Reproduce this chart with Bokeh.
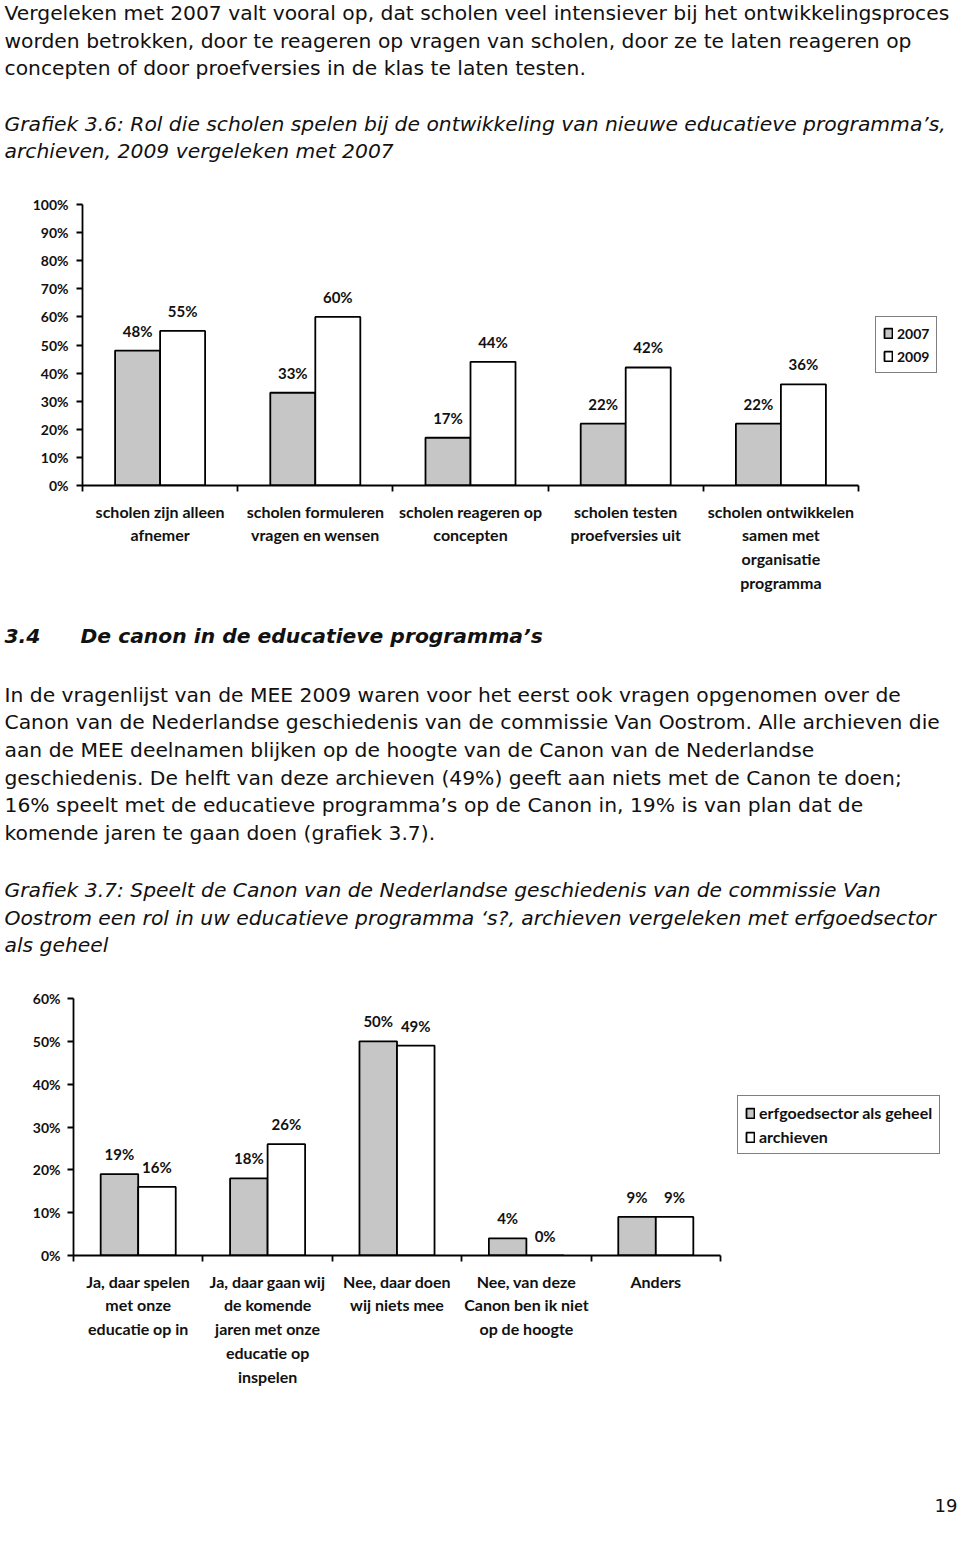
import numpy as np
from bokeh.plotting import figure
from bokeh.models import Range1d, FixedTicker, Legend, LegendItem, ColumnDataSource, PrintfTickFormatter
from bokeh.layouts import column
from bokeh.core.properties import value
from bokeh.embed import file_html
from bokeh.resources import INLINE

# ---------------- data ----------------
c1_categories = [
    "scholen zijn alleen\nafnemer",
    "scholen formuleren\nvragen en wensen",
    "scholen reageren op\nconcepten",
    "scholen testen\nproefversies uit",
    "scholen ontwikkelen\nsamen met\norganisatie\nprogramma",
]
c1_series = ["2007", "2009"]
c1_2007 = [48, 33, 17, 22, 22]
c1_2009 = [55, 60, 44, 42, 36]
c1_yticks = [0, 10, 20, 30, 40, 50, 60, 70, 80, 90, 100]

c2_categories = [
    "Ja, daar spelen\nmet onze\neducatie op in",
    "Ja, daar gaan wij\nde komende\njaren met onze\neducatie op\ninspelen",
    "Nee, daar doen\nwij niets mee",
    "Nee, van deze\nCanon ben ik niet\nop de hoogte",
    "Anders",
]
c2_series = ["erfgoedsector als geheel", "archieven"]
c2_erfgoed = [19, 18, 50, 4, 9]
c2_archieven = [16, 26, 49, 0, 9]
c2_yticks = [0, 10, 20, 30, 40, 50, 60]

para1 = [
    "Vergeleken met 2007 valt vooral op, dat scholen veel intensiever bij het ontwikkelingsproces",
    "worden betrokken, door te reageren op vragen van scholen, door ze te laten reageren op",
    "concepten of door proefversies in de klas te laten testen.",
]
caption1 = [
    "Grafiek 3.6: Rol die scholen spelen bij de ontwikkeling van nieuwe educatieve programma\u2019s,",
    "archieven, 2009 vergeleken met 2007",
]
heading_num = "3.4"
heading_txt = "De canon in de educatieve programma\u2019s"
para2 = [
    "In de vragenlijst van de MEE 2009 waren voor het eerst ook vragen opgenomen over de",
    "Canon van de Nederlandse geschiedenis van de commissie Van Oostrom. Alle archieven die",
    "aan de MEE deelnamen blijken op de hoogte van de Canon van de Nederlandse",
    "geschiedenis. De helft van deze archieven (49%) geeft aan niets met de Canon te doen;",
    "16% speelt met de educatieve programma\u2019s op de Canon in, 19% is van plan dat de",
    "komende jaren te gaan doen (grafiek 3.7).",
]
caption2 = [
    "Grafiek 3.7: Speelt de Canon van de Nederlandse geschiedenis van de commissie Van",
    "Oostrom een rol in uw educatieve programma \u2018s?, archieven vergeleken met erfgoedsector",
    "als geheel",
]
page_number = "19"

# ---------------- style ----------------
W = 960
GRAY = "#c6c6c6"
CFONT = "Lato"
TFONT = "DejaVu Sans"
TSIZE = "20.3px"
LW = 1.8
TX = 4


def text_fig(h):
    p = figure(width=W, height=h, x_range=Range1d(0, W), y_range=Range1d(h, 0),
               output_backend="svg", toolbar_location=None, min_border=0,
               min_border_left=0, min_border_right=0, min_border_top=0, min_border_bottom=0,
               x_axis_type=None, y_axis_type=None, frame_align=False)
    p.outline_line_color = None
    p.grid.visible = False
    return p


def add_lines(p, x, ys, lines, style="normal", size=TSIZE):
    p.text(x=[x] * len(lines), y=ys, text=lines, text_font=value(TFONT),
           text_font_size=size, text_font_style=style, text_baseline="middle",
           text_align="left", text_color="#111111")


def bar_chart(h, top, bottom, left, cat_w, ymax, yticks, cats, a, b, names,
              legend_xy, ystandoff, legend_size):
    n = len(cats)
    xend = (W - left) / cat_w
    p = figure(width=W, height=h, x_range=Range1d(0, xend), y_range=Range1d(0, ymax),
               output_backend="svg", toolbar_location=None, frame_align=False,
               min_border_left=left, min_border_right=0,
               min_border_top=top, min_border_bottom=bottom)
    p.outline_line_color = None
    p.xgrid.visible = False
    p.ygrid.visible = False

    idx = np.arange(n)
    bw = 0.29
    src = ColumnDataSource(dict(
        xa=idx + 0.5 - bw / 2, xb=idx + 0.5 + bw / 2, a=a, b=b,
        la=[f"{v}%" for v in a], lb=[f"{v}%" for v in b]))
    ra = p.vbar(x="xa", top="a", width=bw, source=src, fill_color=GRAY,
                line_color="black", line_width=LW)
    rb = p.vbar(x="xb", top="b", width=bw, source=src, fill_color="white",
                line_color="black", line_width=LW)
    for xc, yc, lc in (("xa", "a", "la"), ("xb", "b", "lb")):
        p.text(x=xc, y=yc, text=lc, source=src, text_align="center",
               text_baseline="middle", y_offset=-20, text_font=value(CFONT),
               text_font_style="bold", text_font_size="15px", text_color="#111111")

    xa = p.xaxis[0]
    xa.ticker = FixedTicker(ticks=[float(i + 0.5) for i in idx],
                            minor_ticks=[float(i) for i in range(n + 1)])
    xa.major_label_overrides = {float(i + 0.5): c for i, c in enumerate(cats)}
    xa.bounds = (0, n)
    xa.major_tick_out = 0
    xa.major_tick_in = 0
    xa.minor_tick_out = 6
    xa.minor_tick_in = 0
    xa.axis_line_width = LW
    xa.axis_line_color = "black"
    xa.minor_tick_line_width = LW
    xa.minor_tick_line_color = "black"
    xa.major_label_standoff = 10
    xa.major_label_text_font = CFONT
    xa.major_label_text_font_style = "bold"
    xa.major_label_text_font_size = "16px"
    xa.major_label_text_color = "#111111"
    xa.major_label_text_line_height = 1.25

    ya = p.yaxis[0]
    ya.ticker = FixedTicker(ticks=yticks)
    ya.formatter = PrintfTickFormatter(format="%d%%")
    ya.major_tick_out = 6
    ya.major_tick_in = 0
    ya.minor_tick_out = 0
    ya.minor_tick_in = 0
    ya.axis_line_width = LW
    ya.axis_line_color = "black"
    ya.major_tick_line_width = LW
    ya.major_tick_line_color = "black"
    ya.major_label_standoff = ystandoff
    ya.major_label_text_font = CFONT
    ya.major_label_text_font_style = "bold"
    ya.major_label_text_font_size = "14px"
    ya.major_label_text_color = "#111111"

    leg = Legend(items=[LegendItem(label=value(names[0]), renderers=[ra]),
                        LegendItem(label=value(names[1]), renderers=[rb])],
                 location=legend_xy, orientation="vertical",
                 border_line_color="black", border_line_width=LW,
                 glyph_width=10, glyph_height=12,
                 label_text_font=CFONT, label_text_font_style="bold",
                 label_text_font_size=legend_size, label_text_color="#111111",
                 label_height=18, spacing=5, padding=7, label_standoff=4,
                 margin=0, background_fill_color="white", background_fill_alpha=1)
    p.add_layout(leg)
    return p


# ---------------- sections ----------------
A = text_fig(190)
add_lines(A, TX, [12, 40, 67], para1)
add_lines(A, TX, [123, 150], caption1, style="italic")

B = bar_chart(420, 14, 125, 82, 155.2, 100, c1_yticks, c1_categories, c1_2007, c1_2009,
              c1_series, (793, 112), 8, "14px")

C = text_fig(365)
add_lines(C, TX, [25], [heading_num], style="bold italic")
add_lines(C, 80, [25], [heading_txt], style="bold italic")
add_lines(C, TX, [84, 111, 139, 167, 194, 222], para2)
add_lines(C, TX, [279, 307, 334], caption2, style="italic")

D = bar_chart(430, 23, 150, 73, 129.4, 60, c2_yticks, c2_categories, c2_erfgoed, c2_archieven,
              c2_series, (664, 101), 7, "16px")

E = text_fig(138)
E.text(x=[957], y=[100], text=[page_number], text_font=value(TFONT), text_font_size="18px",
       text_align="right", text_baseline="middle", text_color="#111111")

layout = column(A, B, C, D, E, spacing=0)
open("out.html", "w").write(file_html(layout, INLINE))
